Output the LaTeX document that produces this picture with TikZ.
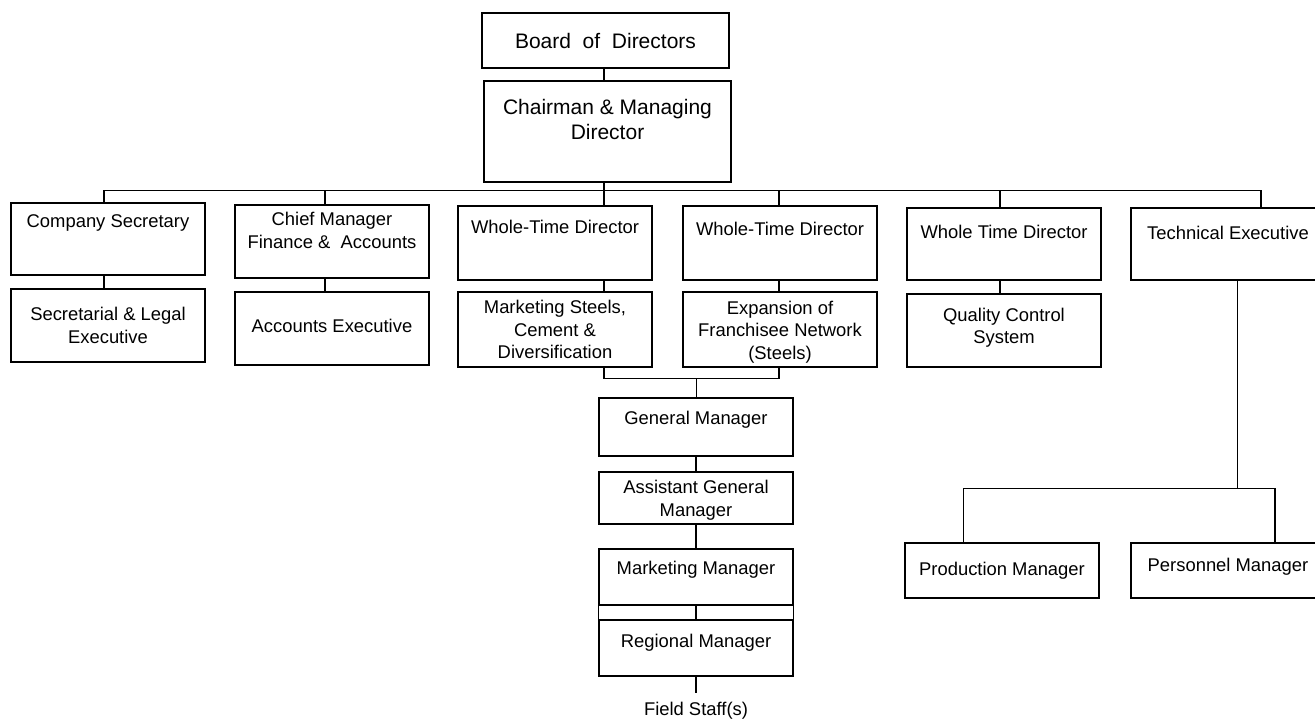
\documentclass[tikz,border=0pt]{standalone}
\usepackage{fontspec}
\setmainfont{Liberation Sans}
\usepackage{tikz}
\usetikzlibrary{positioning}

\begin{document}
\begin{tikzpicture}[x=1pt,y=-1pt,line width=1.3pt,
                    font=\fontsize{18.4}{22.7}\selectfont]
  \tikzstyle{post}=[draw,align=center,inner sep=0pt,
                    minimum width=194pt,minimum height=73pt]
  \tikzstyle{every label}=[align=center,inner sep=0pt]
  \clip (0,0) rectangle (1315,719);

  % top of the chart
  \node[post,minimum width=247pt,minimum height=55pt,
        font=\fontsize{21}{25}\selectfont] (bod) at (605.5,40.5) {Board\ \ of\ \ Directors};
  \node[post,minimum width=247pt,minimum height=101pt,
        label={[yshift=12pt,font=\fontsize{21}{25}\selectfont]center:{Chairman \& Managing\\Director}}]
        (cmd) at (607.5,131.5) {};

  % first row
  \node[post,minimum height=72pt,label={[yshift=15.7pt]center:Company Secretary}] (cs) at (108,239) {};
  \node[post,label={[yshift=11pt]center:{Chief Manager\\Finance \&\ \ Accounts}}] (cmf) at (332,241.5) {};
  \node[post,minimum height=74pt,label={[yshift=16.3pt]center:Whole-Time Director}] (wtda) at (555,243) {};
  \node[post,minimum height=74pt,label={[yshift=13.7pt]center:Whole-Time Director}] (wtdb) at (780,243) {};
  \node[post,minimum height=72pt,label={[yshift=12.3pt]center:Whole Time Director}] (wtdc) at (1004,244) {};
  \node[post,minimum height=72pt,label={[yshift=10.7pt]center:Technical Executive}] (te) at (1228,244) {};

  % second row
  \node[post] (sle) [below of=cs,node distance=86.5pt] {Secretarial \& Legal\\Executive};
  \node[post,label={[yshift=2.5pt]center:Accounts Executive}] (ae) [below of=cmf,node distance=87pt] {};
  \node[post,minimum height=75pt] (ms) [below of=wtda,node distance=86.5pt] {Marketing Steels,\\Cement \&\\Diversification};
  \node[post,minimum height=75pt,label={[yshift=-2.7pt]center:{Expansion of\\Franchisee Network\\(Steels)}}]
        (exp) [below of=wtdb,node distance=86.5pt] {};
  \node[post,label={[yshift=2.7pt]center:{Quality Control\\System}}] (qcs) [below of=wtdc,node distance=86.5pt] {};

  % marketing line
  \node[post,minimum height=58pt,label={[yshift=7.7pt]center:General Manager}] (gm) at (696,427) {};
  \node[post,minimum height=52pt,label={[yshift=-2pt]center:{Assistant General\\Manager}}] (agm) [below of=gm,node distance=71pt] {};
  \node[post,minimum height=56pt,label={[yshift=7.7pt]center:Marketing Manager}] (mm) [below of=agm,node distance=79pt] {};
  \node[post,minimum height=56pt,label={[yshift=5.3pt]center:Regional Manager}] (rm) [below of=mm,node distance=71pt] {};
  \node[inner sep=9pt] (fs) [below of=rm,node distance=63pt] {Field Staff(s)};

  % technical line
  \node[post,minimum height=55pt] (pm) at (1002,570.5) {Production Manager};
  \node[post,minimum height=55pt,label={[yshift=3.8pt]center:Personnel Manager}] (psm) [right of=pm,node distance=226pt] {};

  % bus points
  \coordinate (b1) at (104,190.7);
  \coordinate (b2) at (325,190.7);
  \coordinate (b3) at (604,190.7);
  \coordinate (b4) at (779,190.7);
  \coordinate (b5) at (1000,190.7);
  \coordinate (b6) at (1261,190.7);
  \coordinate (j) at (696.5,378.5);
  \coordinate (t) at (1237.7,488.3);
  \coordinate (tl) at (963.3,488.3);
  \coordinate (tr) at (1275,488.3);

  \draw (bod.south -| b3) -- (cmd.north -| b3);
  \draw (cmd.south -| b3) -- (b3);
  \draw (cs.north -| b1) -- (b1) -- (b6) -- (te.north -| b6);
  \foreach \b/\n in {b2/cmf,b3/wtda,b4/wtdb,b5/wtdc}
    \draw (\b) -- (\n.north -| \b);
  \foreach \b/\u/\l in {b1/cs/sle,b2/cmf/ae,b3/wtda/ms,b4/wtdb/exp,b5/wtdc/qcs}
    \draw (\u.south -| \b) -- (\l.north -| \b);

  \draw (ms.south -| b3) |- (j) -| (exp.south -| b4);
  \draw (j) -- (gm.north -| j);
  \draw (gm) -- (agm);
  \draw (agm) -- (mm);
  \draw (mm) -- (rm);
  \draw (mm.south west) -- (rm.north west)
        (mm.south east) -- (rm.north east);
  \draw (rm) -- (fs);

  \draw (te.south -| t) -- (t);
  \draw (pm.north -| tl) -- (tl) -- (tr) -- (psm.north -| tr);
\end{tikzpicture}
\end{document}
